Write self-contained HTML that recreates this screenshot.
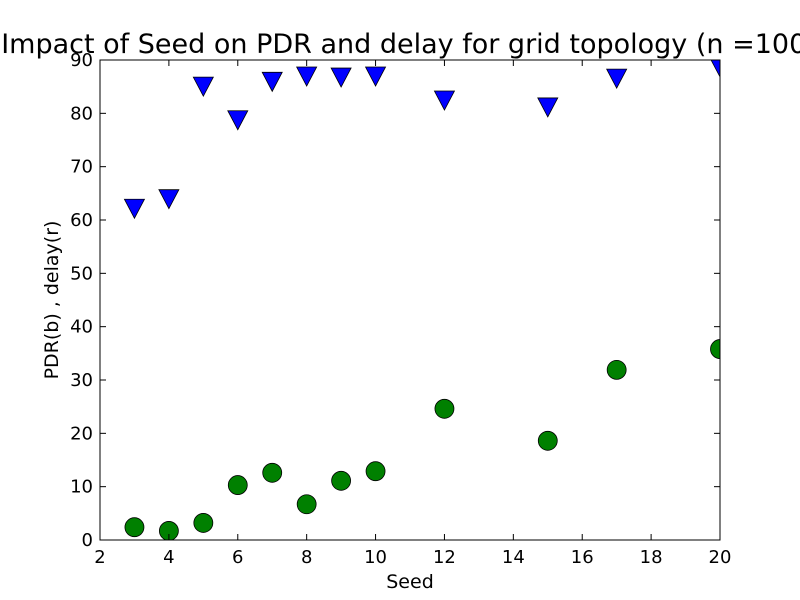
<!DOCTYPE html>
<html><head><meta charset="utf-8"><style>body{margin:0;background:#fff}svg{display:block;font-family:"DejaVu Sans","Liberation Sans",sans-serif}</style></head>
<body>
<svg id="chart" width="800" height="600" viewBox="0 0 800 600" xmlns="http://www.w3.org/2000/svg">
<defs><clipPath id="clip"><rect x="100" y="60" width="620" height="480"/></clipPath></defs>
<rect width="800" height="600" fill="#fff"/>
<text x="409" y="53" font-size="27" text-anchor="middle">Impact of Seed on PDR and delay for grid topology (n =100)</text>
<g id="marks" clip-path="url(#clip)"></g>
<rect x="100" y="60" width="620" height="480" fill="none" stroke="#000" stroke-width="1"/>
<g id="axes"></g>
<text x="410" y="588" font-size="19" text-anchor="middle">Seed</text>
<text transform="translate(58,300) rotate(-90)" font-size="19" text-anchor="middle">PDR(b) , delay(r)</text>
</svg>
<script>
const seeds = [3,4,5,6,7,8,9,10,12,15,17,20];
const pdr = [62.2,64,85.1,78.8,86,87,86.8,87,82.5,81.2,86.6,88.7];
const delay = [2.4,1.7,3.2,10.3,12.6,6.7,11.1,12.9,24.6,18.6,31.9,35.8];
const xTicks = [2,4,6,8,10,12,14,16,18,20];
const yTicks = [0,10,20,30,40,50,60,70,80,90];
const NS='http://www.w3.org/2000/svg';
const X0=100,X1=720,Y0=540,Y1=60;
const xs=v=>X0+(v-2)/18*(X1-X0);
const ys=v=>Y0-(v/90)*(Y0-Y1);
const marks=document.getElementById('marks'),axes=document.getElementById('axes');
function mk(tag,attrs,parent){const e=document.createElementNS(NS,tag);for(const k in attrs)e.setAttribute(k,attrs[k]);parent.appendChild(e);return e;}
xTicks.forEach(t=>{const x=xs(t);
 const a=mk('line',{x1:x,y1:Y0,x2:x,y2:Y0-6,stroke:'#000'},axes);
 
 
 mk('line',{x1:x,y1:Y1,x2:x,y2:Y1+6,stroke:'#000'},axes);
 const l=mk('text',{x:x,y:Y0+23,'font-size':18,'text-anchor':'middle'},axes);l.textContent=t;
 
 
});
yTicks.forEach(t=>{const y=ys(t);
 const a=mk('line',{x1:X0,y1:y,x2:X0+6,y2:y,stroke:'#000'},axes);
 
 
 mk('line',{x1:X1,y1:y,x2:X1-6,y2:y,stroke:'#000'},axes);
 const l=mk('text',{x:X0-7,y:y+6,'font-size':18,'text-anchor':'end'},axes);l.textContent=t;
 
 
});
seeds.forEach((s,i)=>{const x=xs(s),y=ys(pdr[i]);
 const p=mk('polygon',{points:`${x-10},${y-9} ${x+10},${y-9} ${x},${y+10}`,fill:'#0000ff',stroke:'#000','stroke-width':0.8},marks);
 
 
});
seeds.forEach((s,i)=>{
 const c=mk('circle',{cx:xs(s),cy:ys(delay[i]),r:9.5,fill:'#008000',stroke:'#000','stroke-width':0.8},marks);
 
 
});
</script>
</body></html>
